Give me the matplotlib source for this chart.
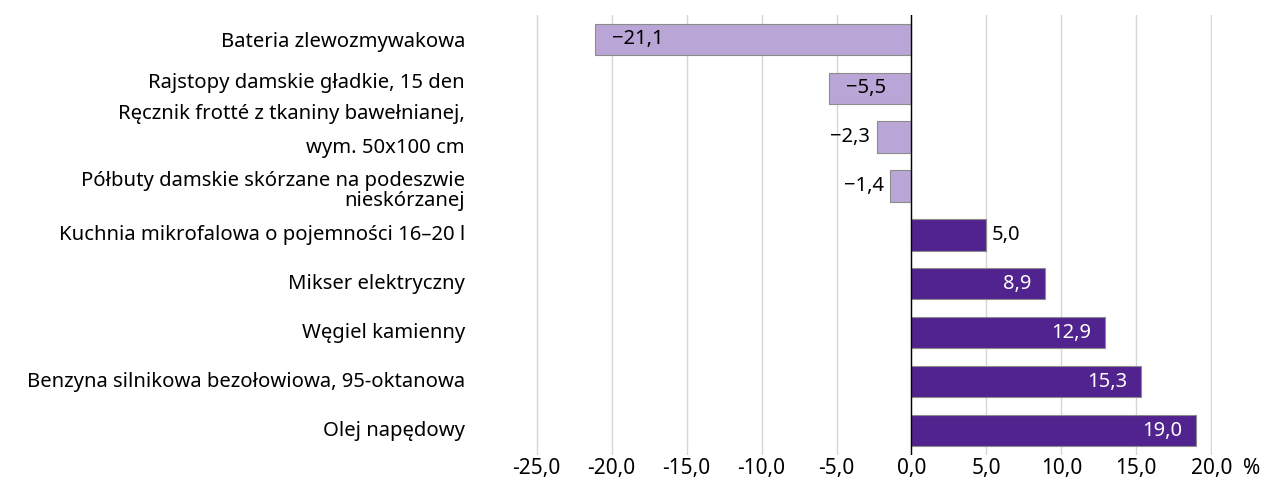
import matplotlib.pyplot as plt

categories = [
    "Bateria zlewozmywakowa",
    "Rajstopy damskie gładkie, 15 den",
    "Ręcznik frotté z tkaniny bawełnianej,\nwym. 50x100 cm",
    "Półbuty damskie skórzane na podeszwie\nnieskórzanej",
    "Kuchnia mikrofalowa o pojemności 16–20 l",
    "Mikser elektryczny",
    "Węgiel kamienny",
    "Benzyna silnikowa bezołowiowa, 95-oktanowa",
    "Olej napędowy",
]
values = [-21.1, -5.5, -2.3, -1.4, 5.0, 8.9, 12.9, 15.3, 19.0]
x_ticks = [-25, -20, -15, -10, -5, 0, 5, 10, 15, 20]

neg_color = "#b9a6d6"
pos_color = "#51238f"

# small vertical nudges of the category labels (in bar units) and line spacing
label_nudge = [0.06, -0.1, -0.12, 0.1, 0, 0, 0, 0, 0]
label_spacing = [1.2, 1.2, 1.95, 1.05, 1.2, 1.2, 1.2, 1.2, 1.2]

plt.rcParams['font.family'] = ['Noto Sans', 'DejaVu Sans']

fig = plt.figure(figsize=(12.71, 4.96), dpi=100)
ax = fig.add_axes([0.4217, 0.0827, 0.5319, 0.8873])

pos = list(range(len(values)))
colors = [neg_color if v < 0 else pos_color for v in values]
ax.barh(pos, values, height=0.64, color=colors, edgecolor="#8c8c8c", linewidth=0.8, zorder=3)

for i, v in enumerate(values):
    txt = f"{abs(v):.1f}".replace(".", ",")
    if v < 0:
        txt = "\u2212" + txt
        if v <= -5:
            ax.annotate(txt, (v, i), xytext=(12, 0), textcoords="offset points",
                        ha="left", va="center", fontsize=14.5, color="black", zorder=4)
        else:
            ax.annotate(txt, (v, i), xytext=(-5, 0), textcoords="offset points",
                        ha="right", va="center", fontsize=14.5, color="black", zorder=4)
    else:
        if v < 6:
            ax.annotate(txt, (v, i), xytext=(4, 0), textcoords="offset points",
                        ha="left", va="center", fontsize=14.5, color="black", zorder=4)
        else:
            ax.annotate(txt, (v, i), xytext=(-10, 0), textcoords="offset points",
                        ha="right", va="center", fontsize=14.5, color="white", zorder=4)

ax.set_xlim(-25.05, 20.05)
ax.set_ylim(8.5, -0.5)
ax.set_xticks(x_ticks)
ax.set_xticklabels([f"{t:.1f}".replace(".", ",") for t in x_ticks], fontsize=15)
ax.set_yticks(pos)
ax.set_yticklabels([])
ax.tick_params(axis="y", length=0)
ax.tick_params(axis="x", length=0, pad=2)

ytrans = ax.get_yaxis_transform()
for i, lab in enumerate(categories):
    ax.text(-0.105, i + label_nudge[i], lab, transform=ytrans, ha="right", va="center",
            multialignment="right", fontsize=14.6, linespacing=label_spacing[i])

ax.grid(axis="x", color="#d6d6d6", linewidth=1, zorder=0)
ax.axvline(0, color="black", linewidth=1, zorder=5)
for s in ax.spines.values():
    s.set_visible(False)

ax.text(1.059, -0.006, "%", transform=ax.transAxes, fontsize=15, ha="center", va="top")

fig.savefig("out.png", dpi=100)
